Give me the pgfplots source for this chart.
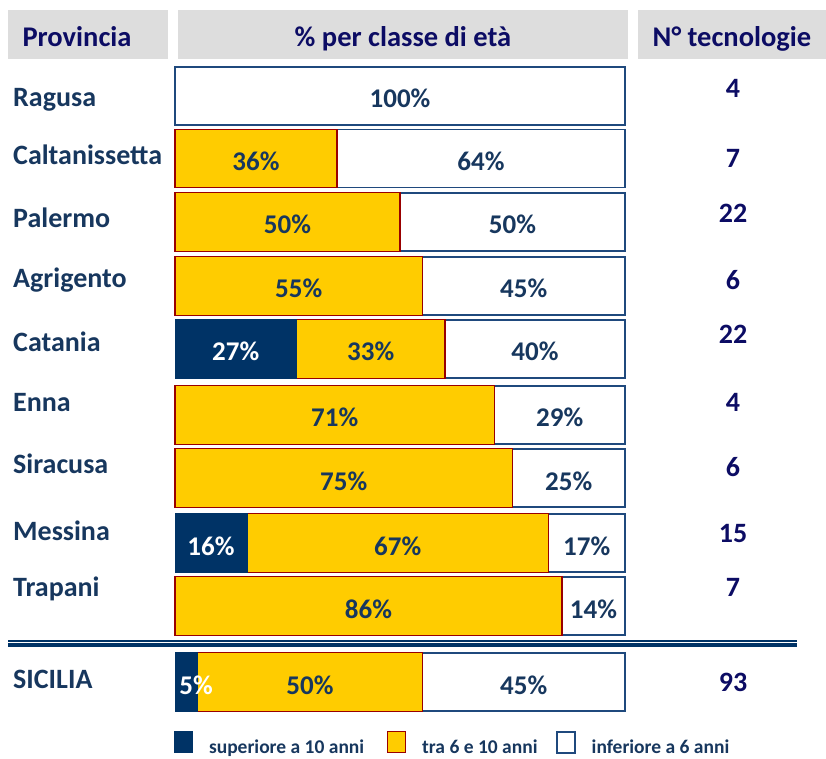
\documentclass[border=0pt]{standalone}
\usepackage{fontspec}
\setmainfont{Carlito}
\usepackage{pgfplots}
\pgfplotsset{compat=1.18}
\usepackage{pgfplotstable}

\definecolor{navy}{RGB}{0,51,102}
\definecolor{gold}{RGB}{255,204,0}
\definecolor{maroon}{RGB}{153,0,0}
\definecolor{bordnavy}{RGB}{31,73,125}
\definecolor{txtnavy}{RGB}{23,55,94}
\definecolor{hdrnavy}{RGB}{12,12,100}
\definecolor{hdrgray}{RGB}{221,221,221}

\newcommand\myhdrfont{\fontsize{28.5}{32}\selectfont\bfseries}
\newcommand\mylabfont{\fontsize{28}{30}\selectfont\bfseries}
\newcommand\myvalfont{\fontsize{27}{30}\selectfont\bfseries}
\newcommand\mylegfont{\fontsize{19.5}{22}\selectfont\bfseries}
\newcommand\px[1]{{((#1)-175)/4.5}}

% y = minus the pixel row of the bar centre
\pgfplotstableread{
y      sup tra inf
-96    0   0   100
-158.5 0   36  64
-222   0   50  50
-286   0   55  45
-349   27  33  40
-415   0   71  29
-478   0   75  25
-543   16  67  17
-606   0   86  14
-682   5   50  45
}\data

% bar value: [colour]{percent position}{bar centre row}{text}
\newcommand\barlab[4][txtnavy]{\node[anchor=base,text=#1,font=\myvalfont,inner sep=0pt] at (#2,#3+12) {#4};}
\newcommand\provlab[2]{\node[anchor=base west,text=txtnavy,font=\mylabfont,inner sep=0pt] at (13,#1) {#2};}
\newcommand\numlab[2]{\node[anchor=base,text=hdrnavy,font=\mylabfont,inner sep=0pt] at (733,#1) {#2};}
\newcommand\hdrlab[2]{\node[anchor=base,text=hdrnavy,font=\myhdrfont,inner sep=0pt] at (#1,47) {#2};}

\begin{document}
\begin{tikzpicture}
\begin{axis}[
  width=826pt, height=758pt, scale only axis,
  xmin=-38.8889, xmax=144.6667, ymin=-758, ymax=0,
  enlargelimits=false,
  hide axis, clip=false,
  xbar stacked, bar width=58.3,
  legend columns=3,
  legend image code/.code={\draw[#1] (0pt,-5pt) rectangle (18pt,16pt);},
  legend style={at={(axis cs:\px{174},-731)}, anchor=north west,
    draw=none, fill=none, inner sep=0pt, outer sep=0pt,
    font=\mylegfont, text=txtnavy, nodes={inner sep=0pt},
    /tikz/every odd column/.append style={column sep=16pt},
    /tikz/every even column/.append style={column sep=18pt}},
]
% header
\fill[hdrgray] (axis cs:\px{8},-10) rectangle (axis cs:\px{168},-59);
\fill[hdrgray] (axis cs:\px{178},-10) rectangle (axis cs:\px{628},-59);
\fill[hdrgray] (axis cs:\px{638},-10) rectangle (axis cs:\px{826},-59);

% bars
\addplot[fill=navy, draw=navy, line width=1pt] table[x=sup,y=y]{\data};
\addplot[fill=gold, draw=maroon, line width=1.2pt] table[x=tra,y=y]{\data};
\addplot[fill=white, draw=bordnavy, line width=1.5pt] table[x=inf,y=y]{\data};
\legend{\makebox[160pt][l]{superiore a 10 anni},\makebox[116pt][l]{tra 6 e 10 anni},inferiore a 6 anni}

% double separator
\draw[navy, line width=2.2pt] (axis cs:\px{8},-641) -- (axis cs:\px{797},-641);
\draw[navy, line width=4pt] (axis cs:\px{8},-645.3) -- (axis cs:\px{797},-645.3);
\end{axis}

% texts in pixel rows (1pt = 1px) from the picture's top-left corner
\begin{scope}[shift={(current axis.north west)}, x=1pt, y=-1pt]
\hdrlab{77}{Provincia}
\hdrlab{403}{\% per classe di età}
\hdrlab{732}{N° tecnologie}

\provlab{106.7}{Ragusa}
\provlab{165}{Caltanissetta}
\provlab{228}{Palermo}
\provlab{288}{Agrigento}
\provlab{351.7}{Catania}
\provlab{411.7}{Enna}
\provlab{473}{Siracusa}
\provlab{540}{Messina}
\provlab{596.7}{Trapani}
\provlab{688}{SICILIA}

\numlab{98}{4}
\numlab{168}{7}
\numlab{223}{22}
\numlab{290}{6}
\numlab{344}{22}
\numlab{412}{4}
\numlab{476}{6}
\numlab{542}{15}
\numlab{596}{7}
\numlab{691}{93}
\end{scope}

% bar values: x in percent of the bar (bar starts at pixel 175, 4.5 px per percent)
\begin{scope}[shift={(current axis.north west)}, xshift=175pt, x=4.5pt, y=-1pt]
\barlab{50}{96}{100\%}
\barlab{18}{158.5}{36\%}  \barlab{68}{158.5}{64\%}
\barlab{25}{222}{50\%}    \barlab{75}{222}{50\%}
\barlab{27.5}{286}{55\%}  \barlab{77.5}{286}{45\%}
\barlab[white]{13.5}{349}{27\%} \barlab{43.5}{349}{33\%} \barlab{80}{349}{40\%}
\barlab{35.5}{415}{71\%}  \barlab{85.5}{415}{29\%}
\barlab{37.5}{478}{75\%}  \barlab{87.5}{478}{25\%}
\barlab[white]{8}{543}{16\%} \barlab{49.5}{543}{67\%} \barlab{91.5}{543}{17\%}
\barlab{43}{606}{86\%}    \barlab{93}{606}{14\%}
\barlab[white]{4.7}{682}{5\%} \barlab{30}{682}{50\%} \barlab{77.5}{682}{45\%}
\end{scope}

\pgfresetboundingbox
\path (current axis.south west) rectangle (current axis.north east);
\end{tikzpicture}
\end{document}
